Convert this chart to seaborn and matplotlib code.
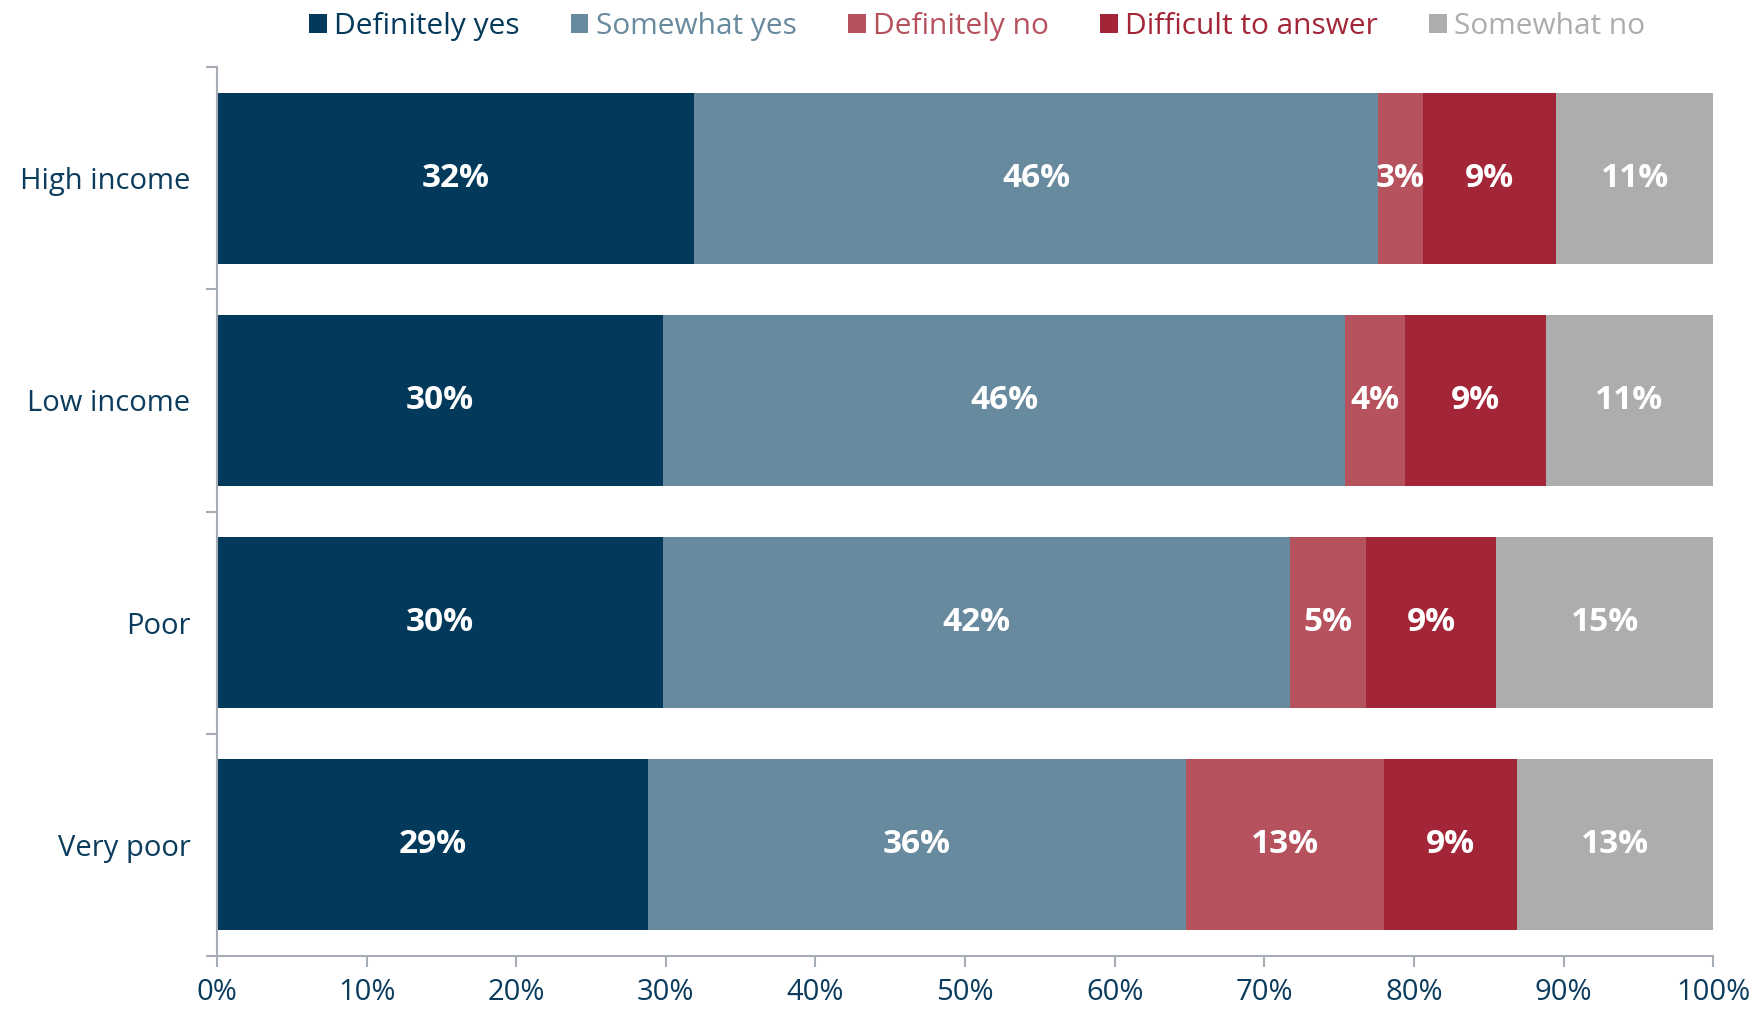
import numpy as np
import pandas as pd
import seaborn as sns
import matplotlib.pyplot as plt
from matplotlib.patches import Patch

sns.set_theme(style='white')
plt.rcParams['font.family'] = ['Open Sans', 'DejaVu Sans']

# данные
groups = ['High income', 'Low income', 'Poor', 'Very poor']
series = ['Definitely yes', 'Somewhat yes', 'Definitely no', 'Difficult to answer', 'Somewhat no']
definitely_yes = [31.9, 29.8, 29.8, 28.8]
somewhat_yes = [45.7, 45.6, 41.9, 36.0]
definitely_no = [3.0, 4.0, 5.1, 13.2]
difficult = [8.9, 9.4, 8.7, 8.9]
somewhat_no = [10.6, 11.2, 14.6, 13.1]
colors = ['#03395a', '#678a9e', '#b6525e', '#a32638', '#adadad']
text_col = '#0b3c5d'

df = pd.DataFrame({'group': groups,
                   'Definitely yes': definitely_yes,
                   'Somewhat yes': somewhat_yes,
                   'Definitely no': definitely_no,
                   'Difficult to answer': difficult,
                   'Somewhat no': somewhat_no})
cum = df[series].cumsum(axis=1)

fig = plt.figure(figsize=(17.54, 10.09), dpi=100)
ax = fig.add_axes([0.1237, 0.0525, 0.853, 0.881])

# рисуем накопленные суммы от большей к меньшей
for s, c in reversed(list(zip(series, colors))):
    sns.barplot(x=cum[s], y=df['group'], orient='h', color=c, width=0.77,
                linewidth=0, saturation=1, ax=ax)

# подписи внутри сегментов
for i in range(len(groups)):
    left = 0
    for s in series:
        v = df.loc[i, s]
        ax.text(left + v / 2, i, '{:.0f}%'.format(v), ha='center', va='center',
                color='white', fontsize=24, fontweight='bold')
        left += v

ax.set_xlim(0, 100)
ax.set_ylim(3.5, -0.5)
ax.set_xticks(np.arange(0, 101, 10))
ax.set_xticklabels(['{}%'.format(t) for t in range(0, 101, 10)])
ax.set_xlabel('')
ax.set_ylabel('')

spine_col = '#a7adb4'
for side in ['top', 'right']:
    ax.spines[side].set_visible(False)
for side in ['left', 'bottom']:
    ax.spines[side].set_color(spine_col)
    ax.spines[side].set_linewidth(1.5)

ax.tick_params(axis='x', direction='out', length=8, width=1.5, color=spine_col,
               labelsize=21, labelcolor=text_col, pad=8, bottom=True)
ax.tick_params(axis='y', which='major', length=0, labelsize=21, labelcolor=text_col, pad=19)
ax.set_yticks(np.arange(-0.5, 4, 1), minor=True)
ax.tick_params(axis='y', which='minor', direction='out', length=8, width=1.5,
               color=spine_col, left=True)

# легенда
handles = [Patch(facecolor=c, edgecolor='none') for c in colors]
leg = fig.legend(handles, series, loc='center', bbox_to_anchor=(0.557, 0.974), ncol=5,
                 frameon=False, fontsize=21.5, handlelength=0.6, handleheight=0.6,
                 handletextpad=0.25, columnspacing=1.7)
for t, c in zip(leg.get_texts(), colors):
    t.set_color(c)

fig.savefig('out.png', dpi=100)
